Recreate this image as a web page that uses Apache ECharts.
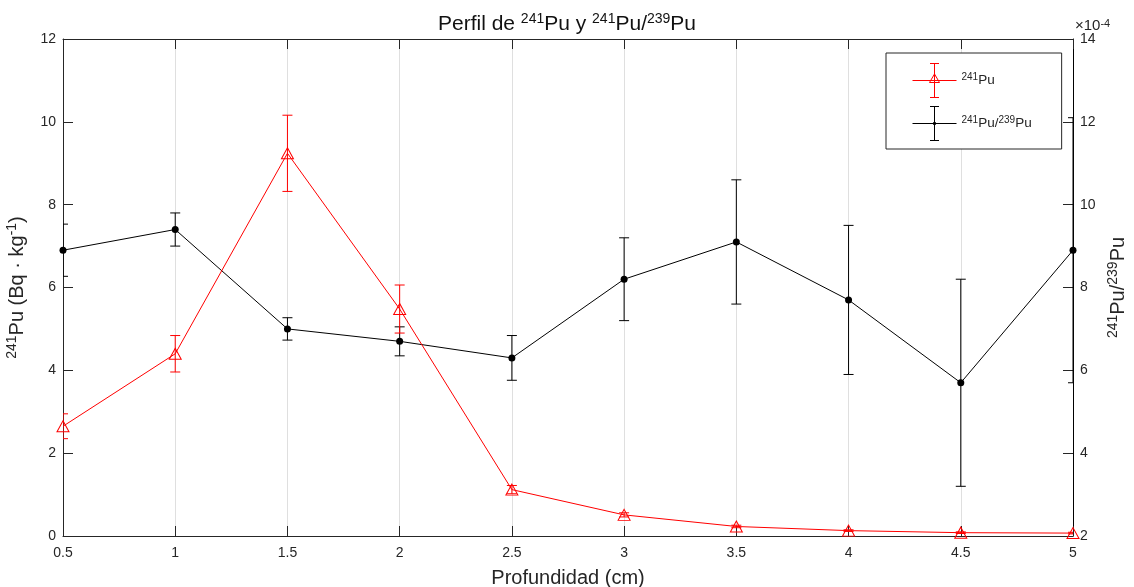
<!DOCTYPE html>
<html>
<head>
<meta charset="utf-8">
<script src="https://cdn.jsdelivr.net/npm/echarts@6/dist/echarts.min.js"></script>
<style>
  html, body { margin: 0; padding: 0; background: #fff; }
  #chart { width: 1134px; height: 587px; }
</style>
</head>
<body>
<div id="chart"></div>
<script>
// Sampling depths (cm)
const depth = [0.5, 1, 1.5, 2, 2.5, 3, 3.5, 4, 4.5, 5];
// 241Pu activity (Bq/kg) with its uncertainty
const pu241 = [2.65, 4.4, 9.24, 5.48, 1.12, 0.51, 0.23, 0.13, 0.08, 0.07];
const pu241Err = [0.3, 0.44, 0.92, 0.58, 0.1, 0.05, 0.03, 0.02, 0.02, 0.02];
// 241Pu/239Pu ratio, expressed in units of 1e-4, with its uncertainty
const ratio = [8.9, 9.4, 7.0, 6.7, 6.3, 8.2, 9.1, 7.7, 5.7, 8.9];
const ratioErr = [0.63, 0.4, 0.27, 0.35, 0.54, 1.0, 1.5, 1.8, 2.5, 3.2];
// Axis ranges
const xTicks = { min: 0.5, max: 5, step: 0.5 };
const leftTicks = { min: 0, max: 12, step: 2 };
const rightTicks = { min: 2, max: 14, step: 2 };

const FONT = '"Liberation Sans", Arial, Helvetica, sans-serif';
const AXIS_COLOR = '#262626';
const RED = '#ff0000';
const BLACK = '#000000';

const supStyle = (size, lh) => ({ fontSize: size, fontFamily: FONT, fontWeight: 'normal', color: AXIS_COLOR, verticalAlign: 'top', lineHeight: lh });

// Vertical error bars with caps, placed through the axis scales
function errorBars(name, values, errs, color, axisIndex) {
  return {
    type: 'custom',
    name: name + '-err',
    yAxisIndex: axisIndex,
    clip: true,
    silent: true,
    z: 4,
    data: depth.map((d, i) => [d, values[i] - errs[i], values[i] + errs[i]]),
    encode: { x: 0, y: [1, 2] },
    renderItem(params, api) {
      const x = api.value(0);
      const lo = api.coord([x, api.value(1)]);
      const hi = api.coord([x, api.value(2)]);
      const w = 5;
      const st = { stroke: color, lineWidth: 1 };
      return {
        type: 'group',
        children: [
          { type: 'line', shape: { x1: lo[0], y1: lo[1], x2: hi[0], y2: hi[1] }, style: st },
          { type: 'line', shape: { x1: lo[0] - w, y1: lo[1], x2: lo[0] + w, y2: lo[1] }, style: st },
          { type: 'line', shape: { x1: hi[0] - w, y1: hi[1], x2: hi[0] + w, y2: hi[1] }, style: st }
        ]
      };
    }
  };
}

const chart = echarts.init(document.getElementById('chart'), null, { renderer: 'canvas' });

const legendIconRed = 'path://M0,17L44,17M22,0L22,34M17.5,0L26.5,0M17.5,34L26.5,34M22,10.5L17,19L27,19Z';
const legendIconBlack = 'path://M0,17L44,17M22,0L22,34M17.5,0L26.5,0M17.5,34L26.5,34M21,16L23,16L23,18L21,18Z';

const option = {
  animation: false,
  backgroundColor: '#ffffff',
  title: {
    text: '{n|Perfil de }{s|241}{n|Pu y }{s|241}{n|Pu/}{s|239}{n|Pu}',
    left: 'center',
    top: 7,
    textStyle: {
      fontWeight: 'normal',
      rich: {
        n: { fontSize: 21, fontFamily: FONT, fontWeight: 'normal', color: '#111', lineHeight: 24 },
        s: Object.assign(supStyle(14, 16), { color: '#111' })
      }
    }
  },
  grid: { left: 63, right: 61, top: 39, bottom: 51, containLabel: false, outerBoundsMode: 'none' },
  legend: {
    orient: 'vertical',
    left: 886,
    top: 53,
    padding: [8, 30, 6, 24],
    itemGap: 4,
    itemWidth: 44,
    itemHeight: 34,
    borderColor: AXIS_COLOR,
    borderWidth: 1,
    backgroundColor: '#fff',
    selectedMode: false,
    data: [
      { name: 'pu241', icon: legendIconRed, itemStyle: { color: 'none', borderColor: RED, borderWidth: 1 } },
      { name: 'ratio', icon: legendIconBlack, itemStyle: { color: 'none', borderColor: BLACK, borderWidth: 1 } }
    ],
    formatter: (name) => name === 'pu241' ? '{s|241}Pu' : '{s|241}Pu/{s|239}Pu',
    textStyle: {
      fontSize: 13.5, fontFamily: FONT, color: AXIS_COLOR, lineHeight: 16,
      rich: { s: supStyle(10, 12) }
    }
  },
  xAxis: [
    {
      type: 'value', position: 'bottom',
      min: xTicks.min, max: xTicks.max, interval: xTicks.step,
      name: 'Profundidad (cm)', nameLocation: 'middle', nameGap: 32,
      nameTextStyle: { fontSize: 20, fontFamily: FONT, color: AXIS_COLOR },
      axisLine: { show: true, onZero: false, lineStyle: { color: AXIS_COLOR, width: 1 } },
      axisTick: { show: true, inside: true, length: 10, lineStyle: { color: AXIS_COLOR } },
      axisLabel: { fontSize: 14, fontFamily: FONT, color: AXIS_COLOR, margin: 10 },
      splitLine: { show: true, lineStyle: { color: '#dfdfdf', width: 1 } }
    },
    {
      type: 'value', position: 'top',
      min: xTicks.min, max: xTicks.max, interval: xTicks.step,
      axisLine: { show: true, onZero: false, lineStyle: { color: AXIS_COLOR, width: 1 } },
      axisTick: { show: true, inside: true, length: 10, lineStyle: { color: AXIS_COLOR } },
      axisLabel: { show: false },
      splitLine: { show: false }
    }
  ],
  yAxis: [
    {
      type: 'value', position: 'left',
      min: leftTicks.min, max: leftTicks.max, interval: leftTicks.step,
      name: '{s|241}Pu (Bq · kg{s|-1})', nameLocation: 'middle', nameGap: 28, nameRotate: 90,
      nameTextStyle: { fontSize: 20, fontFamily: FONT, color: AXIS_COLOR, lineHeight: 24, rich: { s: supStyle(14, 16) } },
      axisLine: { show: true, onZero: false, lineStyle: { color: AXIS_COLOR, width: 1 } },
      axisTick: { show: true, inside: true, length: 10, lineStyle: { color: AXIS_COLOR } },
      axisLabel: { fontSize: 14, fontFamily: FONT, color: AXIS_COLOR, margin: 7 },
      splitLine: { show: false }
    },
    {
      type: 'value', position: 'right',
      min: rightTicks.min, max: rightTicks.max, interval: rightTicks.step,
      name: '{s|241}Pu/{s|239}Pu', nameLocation: 'middle', nameGap: 28, nameRotate: 90,
      nameTextStyle: { fontSize: 20, fontFamily: FONT, color: AXIS_COLOR, lineHeight: 24, rich: { s: supStyle(14, 16) } },
      axisLine: { show: true, onZero: false, lineStyle: { color: BLACK, width: 1 } },
      axisTick: { show: true, inside: true, length: 10, lineStyle: { color: AXIS_COLOR } },
      axisLabel: { fontSize: 14, fontFamily: FONT, color: AXIS_COLOR, margin: 7 },
      splitLine: { show: false }
    }
  ],
  graphic: [
    {
      type: 'text', left: 1075, top: 18,
      style: {
        text: '×10{s|-4}',
        fontSize: 15, fontFamily: FONT, fill: AXIS_COLOR, lineHeight: 16,
        rich: { s: { fontSize: 11, fontFamily: FONT, fill: AXIS_COLOR, verticalAlign: 'top', lineHeight: 11 } }
      }
    }
  ],
  series: [
    errorBars('ratio', ratio, ratioErr, BLACK, 1),
    {
      type: 'line', name: 'ratio', yAxisIndex: 1,
      data: depth.map((d, i) => [d, ratio[i]]),
      symbol: 'circle', symbolSize: 7,
      color: BLACK,
      lineStyle: { color: BLACK, width: 1 },
      itemStyle: { color: BLACK },
      clip: true, z: 5
    },
    errorBars('pu241', pu241, pu241Err, RED, 0),
    {
      type: 'line', name: 'pu241', yAxisIndex: 0,
      data: depth.map((d, i) => [d, pu241[i]]),
      symbol: 'triangle', symbolSize: [12, 11],
      color: RED,
      lineStyle: { color: RED, width: 1 },
      itemStyle: { color: 'rgba(255,255,255,0)', borderColor: RED, borderWidth: 1 },
      clip: true, z: 6
    }
  ]
};

chart.setOption(option);
</script>
</body>
</html>
